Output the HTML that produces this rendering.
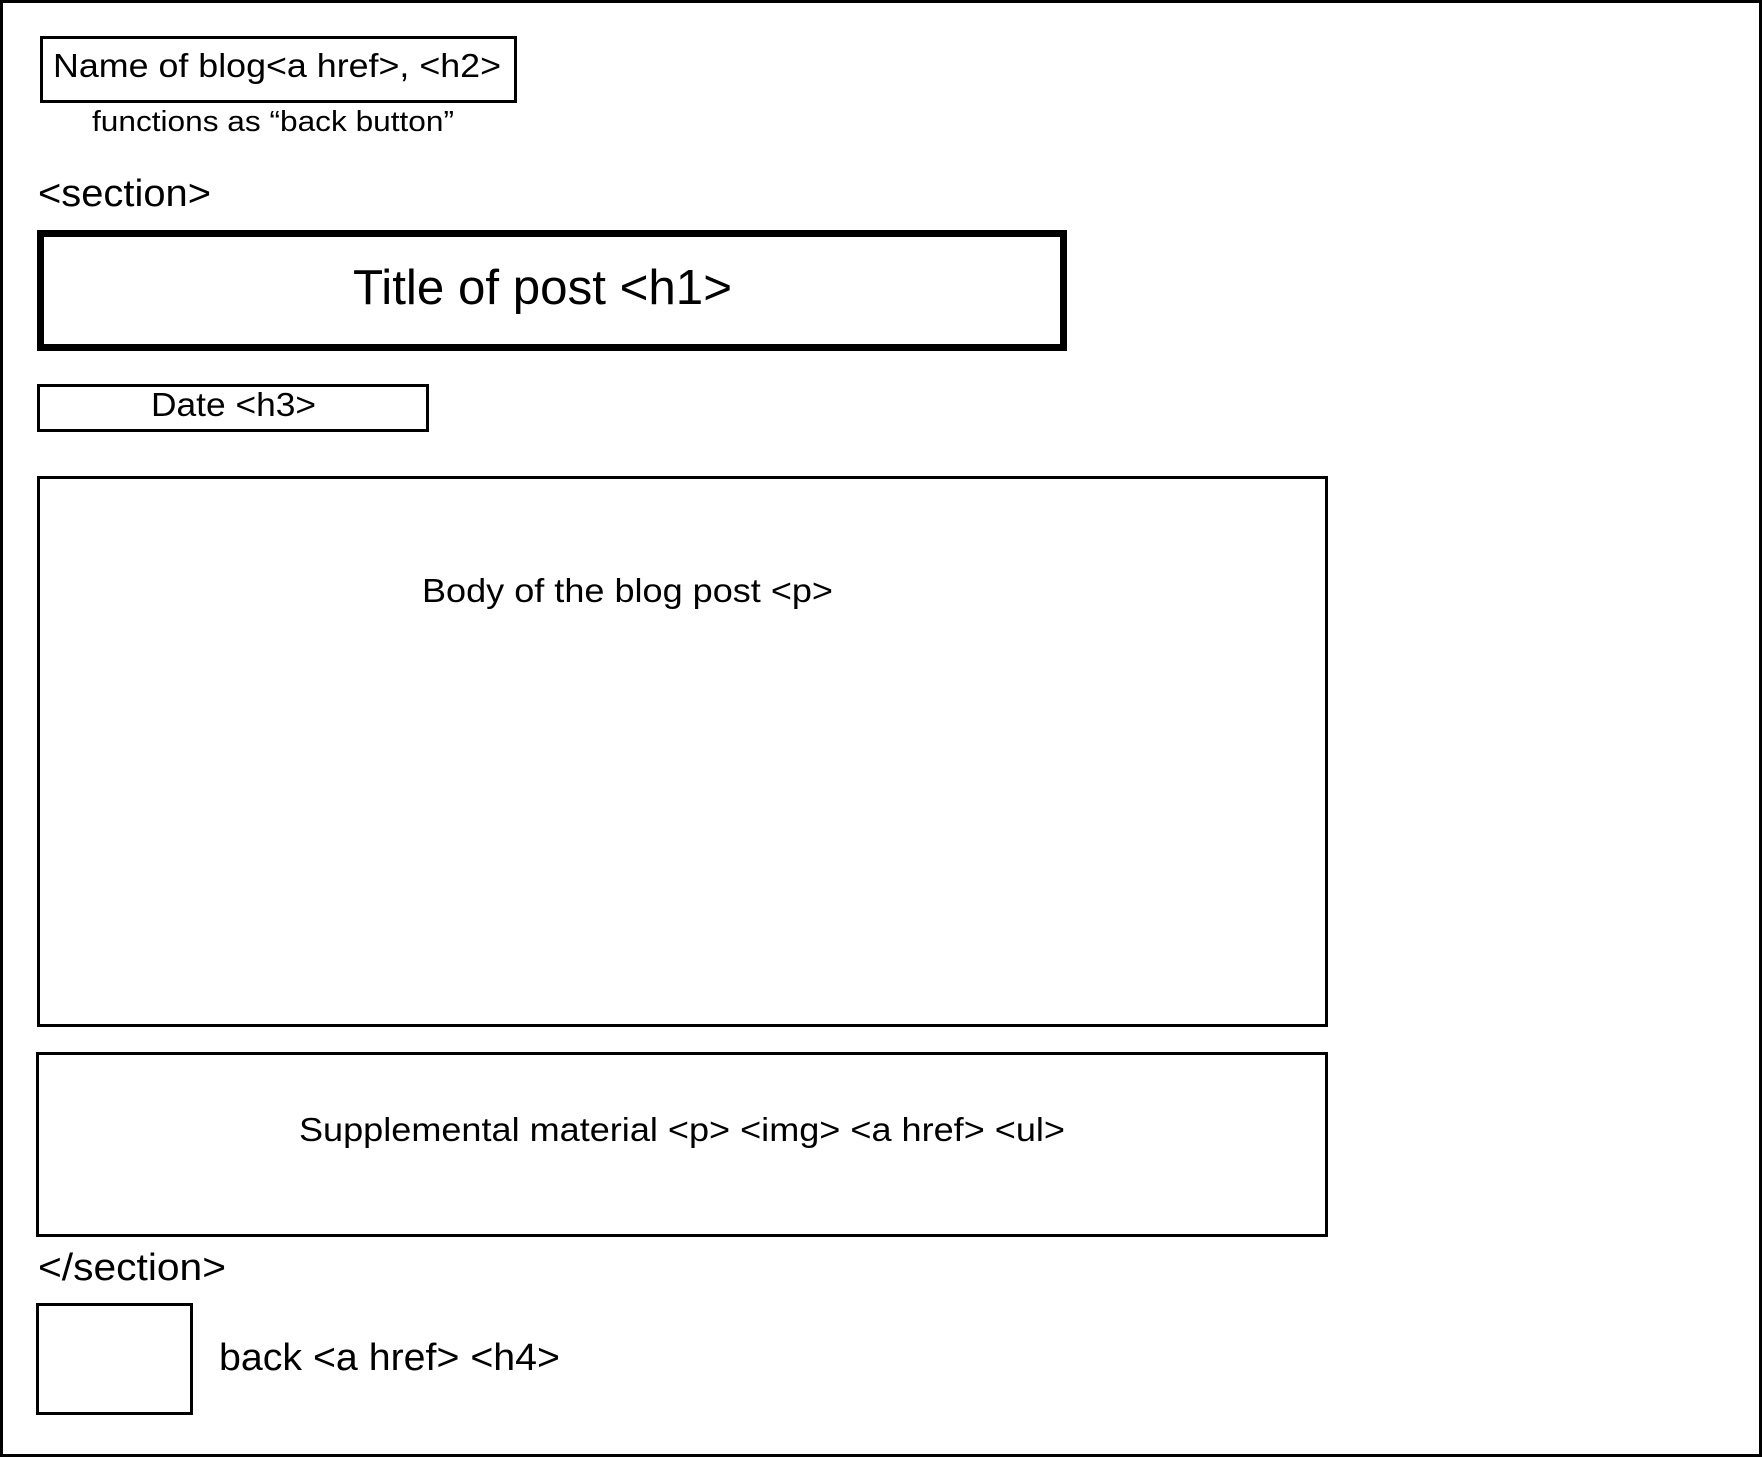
<!DOCTYPE html>
<html><head><meta charset="utf-8"><style>
html,body{margin:0;padding:0;background:#fff;}
svg{display:block;}
text{font-family:"Liberation Sans",sans-serif;fill:#000;}
</style></head><body>
<svg width="1762" height="1457" viewBox="0 0 1762 1457" xmlns="http://www.w3.org/2000/svg">
<rect x="1.5" y="1.5" width="1759" height="1454" fill="#fff" stroke="#000" stroke-width="3"/>
<rect x="41.5" y="37.5" width="474" height="64" fill="none" stroke="#000" stroke-width="3"/>
<text x="53" y="77" font-size="33" textLength="448" lengthAdjust="spacingAndGlyphs">Name of blog&lt;a href&gt;, &lt;h2&gt;</text>
<text x="92" y="131" font-size="29" textLength="362" lengthAdjust="spacingAndGlyphs">functions as “back button”</text>
<text x="38" y="206" font-size="38" textLength="173" lengthAdjust="spacingAndGlyphs">&lt;section&gt;</text>
<rect x="40.5" y="233.5" width="1023" height="114" fill="none" stroke="#000" stroke-width="7"/>
<text x="353" y="304" font-size="49" textLength="379" lengthAdjust="spacingAndGlyphs">Title of post  &lt;h1&gt;</text>
<rect x="38.5" y="385.5" width="389" height="45" fill="none" stroke="#000" stroke-width="3"/>
<text x="151" y="416" font-size="33" textLength="165" lengthAdjust="spacingAndGlyphs">Date &lt;h3&gt;</text>
<rect x="38.5" y="477.5" width="1288" height="548" fill="none" stroke="#000" stroke-width="3"/>
<text x="422" y="602" font-size="33" textLength="411" lengthAdjust="spacingAndGlyphs">Body of the blog post &lt;p&gt;</text>
<rect x="37.5" y="1053.5" width="1289" height="182" fill="none" stroke="#000" stroke-width="3"/>
<text x="299" y="1141" font-size="33" textLength="766" lengthAdjust="spacingAndGlyphs">Supplemental material &lt;p&gt; &lt;img&gt; &lt;a href&gt; &lt;ul&gt;</text>
<text x="38" y="1280" font-size="38" textLength="188" lengthAdjust="spacingAndGlyphs">&lt;/section&gt;</text>
<rect x="37.5" y="1304.5" width="154" height="109" fill="none" stroke="#000" stroke-width="3"/>
<text x="219" y="1370" font-size="38" textLength="341" lengthAdjust="spacingAndGlyphs">back &lt;a href&gt; &lt;h4&gt;</text>
</svg>
</body></html>
